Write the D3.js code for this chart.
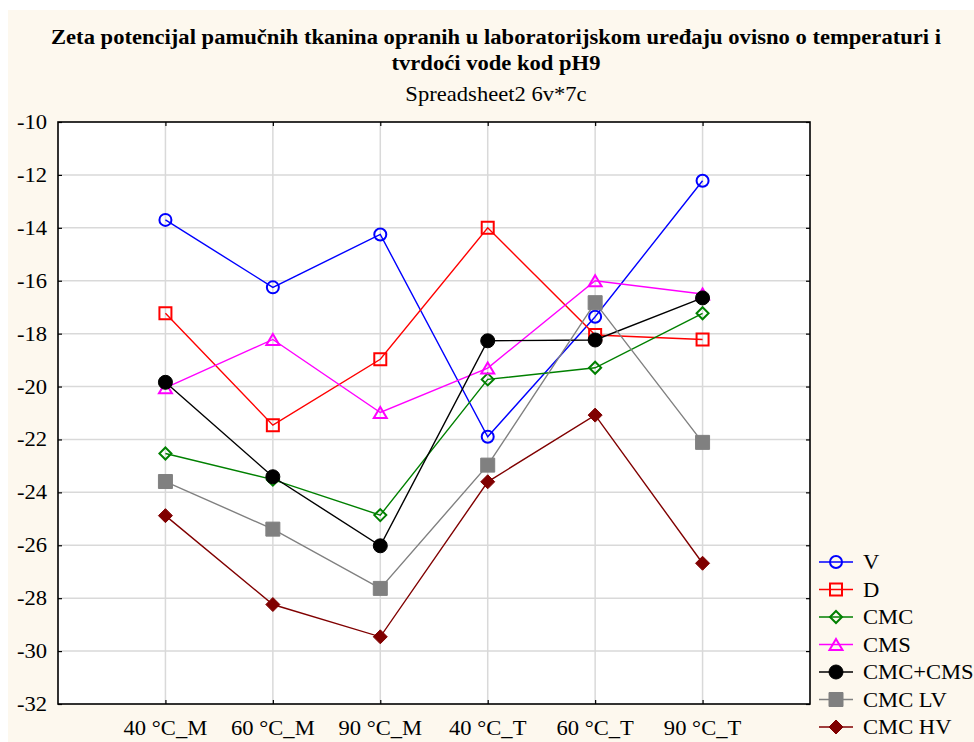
<!DOCTYPE html>
<html>
<head>
<meta charset="utf-8">
<script src="https://cdn.jsdelivr.net/npm/d3@7"></script>
<style>
  html, body { margin: 0; padding: 0; background: #ffffff; }
  svg { display: block; }
  text { font-family: "Liberation Serif", "Times New Roman", serif; fill: #000; }
</style>
</head>
<body>
<svg id="chart" width="974" height="742"></svg>
<script>
// Categories (temperature / water hardness) and y ticks
const categories = ["40 °C_M", "60 °C_M", "90 °C_M", "40 °C_T", "60 °C_T", "90 °C_T"];
const yTicks = [-10, -12, -14, -16, -18, -20, -22, -24, -26, -28, -30, -32];

// Zeta potential series (mV)
const seriesV       = [-13.70, -16.25, -14.25, -21.90, -17.36, -12.22];
const seriesD       = [-17.23, -21.46, -18.97, -14.00, -18.05, -18.22];
const seriesCMC     = [-22.53, -23.52, -24.86, -19.73, -19.29, -17.23];
const seriesCMS     = [-20.05, -18.22, -20.98, -19.30, -16.00, -16.50];
const seriesCMCCMS  = [-19.84, -23.41, -26.02, -18.27, -18.24, -16.65];
const seriesCMCLV   = [-23.59, -25.39, -27.63, -22.97, -16.83, -22.11];
const seriesCMCHV   = [-24.88, -28.24, -29.46, -23.60, -21.08, -26.68];

const seriesNames = ["V", "D", "CMC", "CMS", "CMC+CMS", "CMC LV", "CMC HV"];
const seriesValues = [seriesV, seriesD, seriesCMC, seriesCMS, seriesCMCCMS, seriesCMCLV, seriesCMCHV];

const styles = [
  { color: "#0000ff", marker: "circle",   filled: false },
  { color: "#ff0000", marker: "square",   filled: false },
  { color: "#008000", marker: "diamond",  filled: false },
  { color: "#ff00ff", marker: "triangle", filled: false },
  { color: "#000000", marker: "circle",   filled: true  },
  { color: "#808080", marker: "square",   filled: true  },
  { color: "#800000", marker: "diamond",  filled: true  }
];

const svg = d3.select("#chart");
const W = 974, H = 742;
const plot = { left: 58, right: 810, top: 122, bottom: 704 };
const SX = 1.13;           // horizontal stretch of the serif text
const FONT = "'Liberation Serif', 'Times New Roman', serif";

// Text placed at (px, py) with a horizontal stretch about its anchor
function label(parent, px, py, str, size, anchor, bold) {
  return parent.append("text")
    .attr("transform", `translate(${px},${py}) scale(${SX},1)`)
    .attr("text-anchor", anchor)
    .style("font-family", FONT)
    .style("font-size", size + "px")
    .style("font-weight", bold ? "bold" : "normal")
    .text(str);
}

// Cream panel behind everything
svg.append("rect").attr("x", 8).attr("y", 10).attr("width", W - 8).attr("height", H - 10)
  .attr("fill", "#fdf8ee");

// Titles
const cx = 496;
label(svg, cx, 44, "Zeta potencijal pamučnih tkanina opranih u laboratorijskom uređaju ovisno o temperaturi i", 20, "middle", true);
label(svg, cx, 70, "tvrdoći vode kod pH9", 20, "middle", true);
label(svg, cx, 101, "Spreadsheet2 6v*7c", 20, "middle", false);

// Scales
const x = d3.scalePoint().domain(categories).range([plot.left, plot.right]).padding(1);
const y = d3.scaleLinear().domain([-32, -10]).range([plot.bottom, plot.top]);

// Plot background
svg.append("rect").attr("x", plot.left).attr("y", plot.top)
  .attr("width", plot.right - plot.left).attr("height", plot.bottom - plot.top)
  .attr("fill", "#ffffff");

// Grid
const grid = svg.append("g").attr("stroke", "#d9d9d9").attr("stroke-width", 1.5);
grid.selectAll("line.h").data(yTicks.filter(t => t > -32 && t < -10)).join("line")
  .attr("x1", plot.left).attr("x2", plot.right)
  .attr("y1", d => y(d)).attr("y2", d => y(d));
grid.selectAll("line.v").data(categories).join("line")
  .attr("x1", d => x(d)).attr("x2", d => x(d))
  .attr("y1", plot.top).attr("y2", plot.bottom);

// Axes (ticks pointing inward), labels drawn separately with the stretched font
const axisLeft = svg.append("g").attr("transform", `translate(${plot.left},0)`)
  .call(d3.axisLeft(y).tickValues(yTicks).tickSize(-4).tickFormat(""));
const axisRight = svg.append("g").attr("transform", `translate(${plot.right},0)`)
  .call(d3.axisRight(y).tickValues(yTicks).tickSize(-4).tickFormat(""));
const axisBottom = svg.append("g").attr("transform", `translate(0,${plot.bottom})`)
  .call(d3.axisBottom(x).tickSize(-4).tickFormat(""));
const axisTop = svg.append("g").attr("transform", `translate(0,${plot.top})`)
  .call(d3.axisTop(x).tickSize(-4).tickFormat(""));

[axisLeft, axisRight, axisBottom, axisTop].forEach(a => {
  a.select(".domain").remove();
  a.selectAll(".tick line").attr("stroke", "#000").attr("stroke-width", 1.2);
});

// Tick labels use a plain hyphen for the sign
const yLabels = svg.append("g");
yTicks.forEach(t => label(yLabels, plot.left - 11, y(t) + 7, String(t), 20, "end", false));
const xLabels = svg.append("g");
categories.forEach(c => label(xLabels, x(c), plot.bottom + 31, c, 20, "middle", false));

// Frame
svg.append("rect").attr("x", plot.left).attr("y", plot.top)
  .attr("width", plot.right - plot.left).attr("height", plot.bottom - plot.top)
  .attr("fill", "none").attr("stroke", "#000").attr("stroke-width", 1.6);

// Marker shapes
function markerPath(type, filled) {
  if (type === "circle") {
    const r = filled ? 7 : 6;
    return `M${-r},0A${r},${r} 0 1,0 ${r},0A${r},${r} 0 1,0 ${-r},0Z`;
  }
  if (type === "square") {
    const s = filled ? 7 : 6;
    return `M${-s},${-s}H${s}V${s}H${-s}Z`;
  }
  if (type === "diamond") {
    const s = filled ? 7 : 6;
    return `M0,${-s}L${s},0L0,${s}L${-s},0Z`;
  }
  // triangle, centred on its bounding box
  const hw = 6.5, hh = 5.5;
  return `M0,${-hh}L${hw},${hh}L${-hw},${hh}Z`;
}

const line = d3.line().x((d, i) => x(categories[i])).y(d => y(d));

// Series lines and markers
seriesValues.forEach((vals, k) => {
  const st = styles[k];
  const g = svg.append("g");
  g.append("path").datum(vals).attr("d", line)
    .attr("fill", "none").attr("stroke", st.color).attr("stroke-width", 1.4);
  g.selectAll("path.m").data(vals).join("path").attr("class", "m")
    .attr("transform", (d, i) => `translate(${x(categories[i])},${y(d)})`)
    .attr("d", markerPath(st.marker, st.filled))
    .attr("fill", st.filled ? st.color : "none")
    .attr("stroke", st.color).attr("stroke-width", st.filled ? 1 : 2);
});

// Legend
const legend = svg.append("g");
const legY0 = 562, legStep = 27.5;
seriesNames.forEach((name, k) => {
  const st = styles[k];
  const ly = legY0 + k * legStep;
  legend.append("line").attr("x1", 819).attr("x2", 853).attr("y1", ly).attr("y2", ly)
    .attr("stroke", st.color).attr("stroke-width", 1.4);
  legend.append("path").attr("transform", `translate(836,${ly})`)
    .attr("d", markerPath(st.marker, st.filled))
    .attr("fill", st.filled ? st.color : "none")
    .attr("stroke", st.color).attr("stroke-width", st.filled ? 1 : 2);
  label(legend, 863, ly + 7, name, 20, "start", false);
});
</script>
</body>
</html>
